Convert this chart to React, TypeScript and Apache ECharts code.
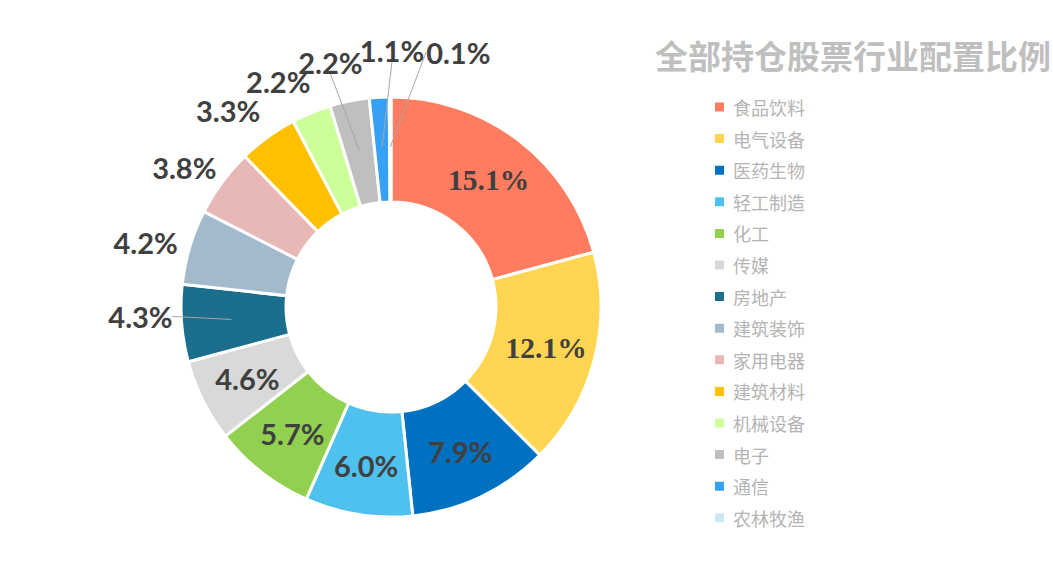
import React, { useEffect, useRef } from "react";
import * as echarts from "echarts";

const titleText = "全部持仓股票行业配置比例";
const categories = [
  "食品饮料", "电气设备", "医药生物", "轻工制造", "化工", "传媒", "房地产",
  "建筑装饰", "家用电器", "建筑材料", "机械设备", "电子", "通信", "农林牧渔",
];
const weights = [15.1, 12.1, 7.9, 6.0, 5.7, 4.6, 4.3, 4.2, 3.8, 3.3, 2.2, 2.2, 1.1, 0.1];
const sliceColors = [
  "#FF7C61", "#FFD551", "#0070C0", "#4FC1EE", "#92D050", "#D9D9D9", "#1B6E8C",
  "#A3B9CC", "#E8B8B7", "#FFC000", "#CCFF99", "#BFBFBF", "#36A0F5", "#CDE8F5",
];

export default function App() {
  const ref = useRef<HTMLDivElement>(null);

  useEffect(() => {
    if (!ref.current) return;
    const chart = echarts.init(ref.current, null, { renderer: "svg" });

    const center = [391, 307];
    const insideCount = 6;
    const serifIdx = [0, 1];
    const lineIdx = [6, 11, 12, 13];
    // label nudges (layout only): offset of label centre from the slice anchor
    const nudges: Record<number, [number, number]> = {
      6: [-91, -3],
      7: [-92, -19],
      8: [-78, -44],
      9: [-69, -67],
      10: [-52, -77],
      11: [-29, -88],
      12: [10, -97],
      13: [68, -95],
    };
    const sansFont = "Lato, 'Liberation Sans', sans-serif";
    const serifFont = "'Liberation Serif', serif";
    const labelColor = "#404040";
    const fmt = (p: any) => `${Number(p.value).toFixed(1)}%`;

    const mainData = categories.map((name, i) => ({
      name,
      value: weights[i],
      itemStyle: { color: sliceColors[i] },
      label:
        i < insideCount
          ? {
              show: true,
              position: "inside",
              fontFamily: serifIdx.includes(i) ? serifFont : sansFont,
              fontSize: serifIdx.includes(i) ? 29.5 : 29,
            }
          : { show: false },
    }));

    const labelData = categories.map((name, i) => ({
      name,
      value: weights[i],
      label: { show: i >= insideCount },
      labelLine: { show: lineIdx.includes(i) },
    }));

    chart.setOption({
      animation: false,
      backgroundColor: "#ffffff",
      title: {
        text: titleText,
        left: 655,
        top: 38,
        padding: 0,
        textStyle: {
          fontFamily: "'Noto Sans CJK SC', sans-serif",
          fontSize: 33,
          fontWeight: "bold",
          color: "#BFBFBF",
        },
      },
      legend: {
        orient: "vertical",
        left: 713,
        top: 98,
        padding: 0,
        itemWidth: 11,
        itemHeight: 11,
        itemGap: 13.6,
        icon: "rect",
        selectedMode: false,
        data: categories,
        textStyle: {
          fontFamily: "'Noto Sans CJK SC', sans-serif",
          fontSize: 18,
          color: "#B4B4B4",
          padding: [0, 0, 0, 3],
        },
      },
      series: [
        {
          type: "pie",
          name: "main",
          z: 2,
          center,
          radius: [105, 210],
          startAngle: 90,
          clockwise: true,
          avoidLabelOverlap: false,
          silent: true,
          legendHoverLink: false,
          emphasis: { disabled: true },
          itemStyle: { borderColor: "#ffffff", borderWidth: 3 },
          label: {
            formatter: fmt,
            fontSize: 29,
            fontWeight: "bold",
            color: labelColor,
          },
          labelLine: { show: false },
          data: mainData,
        },
        {
          type: "pie",
          name: "labels",
          z: 6,
          center,
          radius: [0, 160],
          startAngle: 90,
          clockwise: true,
          avoidLabelOverlap: false,
          silent: true,
          legendHoverLink: false,
          emphasis: { disabled: true },
          itemStyle: { color: "rgba(0,0,0,0)", borderWidth: 0 },
          label: {
            position: "outside",
            formatter: fmt,
            fontSize: 29,
            fontWeight: "bold",
            color: labelColor,
            fontFamily: sansFont,
            distanceToLabelLine: 0,
          },
          labelLine: {
            length: 0,
            length2: 0,
            lineStyle: { color: "#A6A6A6", width: 1 },
          },
          labelLayout: (p: any) => {
            const off = nudges[p.dataIndex];
            if (!off) return {};
            const r = p.labelRect;
            let ax: number;
            let ay: number;
            if (p.labelLinePoints && p.labelLinePoints.length) {
              ax = p.labelLinePoints[0][0];
              ay = p.labelLinePoints[0][1];
            } else {
              ax = p.align === "left" ? r.x : r.x + r.width;
              ay = r.y + r.height / 2;
            }
            const cx = ax + off[0];
            const cy = ay + off[1];
            const res: any = { x: cx, y: cy, align: "center", verticalAlign: "middle" };
            if (p.labelLinePoints && p.labelLinePoints.length) {
              const w = r.width;
              const h = r.height;
              const cands = [
                [cx - w / 2, cy],
                [cx + w / 2, cy],
                [cx, cy - h / 2 + 3],
                [cx, cy + h / 2 - 3],
              ];
              let best = cands[0];
              let bd = Infinity;
              for (const c of cands) {
                const d = Math.hypot(c[0] - ax, c[1] - ay);
                if (d < bd) {
                  bd = d;
                  best = c;
                }
              }
              res.labelLinePoints = [
                [ax, ay],
                [(ax + best[0]) / 2, (ay + best[1]) / 2],
                [best[0], best[1]],
              ];
            }
            return res;
          },
          data: labelData,
        },
      ],
    });

    return () => {
      chart.dispose();
    };
  }, []);

  return (
    <div
      ref={ref}
      style={{ position: "fixed", left: 0, top: 0, width: 1053, height: 569, background: "#fff" }}
    />
  );
}
